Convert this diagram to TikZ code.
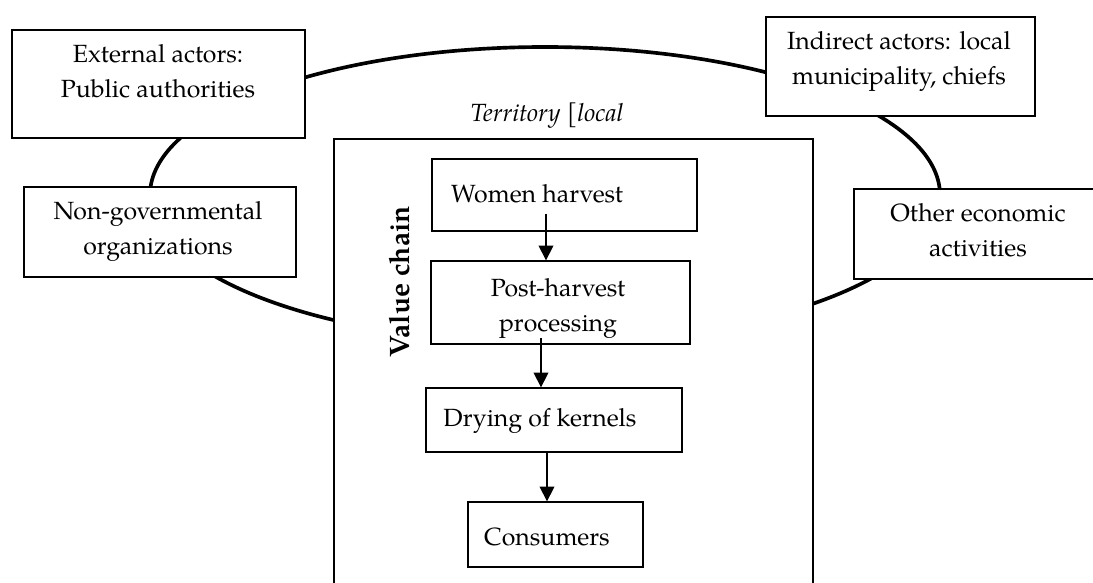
\documentclass[tikz,border=0pt]{standalone}
\usepackage{fontspec}
\setmainfont{TeX Gyre Pagella}
\usetikzlibrary{arrows.meta}

\def\u{0.025cm}

\tikzset{
  box/.style={draw, fill=white, line width=0.9pt, inner sep=0pt},
  lbl/.style={align=center, font=\fontsize{17.7}{24.9}\selectfont, inner sep=0pt, anchor=base},
  arr/.style={-{Triangle[length=10.5pt,width=10.5pt]}, line width=0.8pt}
}

\begin{document}
\begin{tikzpicture}[x=\u, y=-\u]

\useasboundingbox (0,0) rectangle (1093,583);
\clip (0,0) rectangle (1093,583);

% territory
\draw[line width=2.6pt] (545,195) ellipse [x radius=395, y radius=148];

% actors around the territory
\node[box, minimum width=293*\u, minimum height=108*\u] (ext) at (158.5,84) {};
\node[box, minimum width=272*\u, minimum height=90*\u] (ngo) at (160,232) {};
\node[box, minimum width=269*\u, minimum height=99*\u] (ind) at (900.5,66.5) {};
\node[box, minimum width=256*\u, minimum height=90*\u] (oth) at (982,234) {};

% base = last line
\node[lbl] (exttxt) at (158,98) {External actors:\\Public authorities};
\node[lbl] (ngotxt) at (158,255) {Non-governmental\\organizations};
\node[lbl] (indtxt) at (899,85) {Indirect actors: local\\municipality, chiefs};
\node[lbl] (othtxt) at (978,257) {Other economic\\activities};

\node[lbl, font=\fontsize{17.7}{24.9}\selectfont\itshape] (terr) at (547,122) {Territory [local};

% value chain
\node[box, minimum width=479*\u, minimum height=461*\u] (vc) at (573.5,369.5) {};
\node[font=\fontsize{20}{24}\selectfont\bfseries, rotate=90, inner sep=0pt] (vctxt) at (400,282) {Value chain};

\node[box, minimum width=265*\u, minimum height=72*\u] (wh) at (564.5,195) {};
\node[box, minimum width=259*\u, minimum height=83*\u] (ph) at (560.5,302.5) {};
\node[box, minimum width=256*\u, minimum height=64*\u] (dk) at (554,420) {};
\node[box, minimum width=175*\u, minimum height=65*\u] (cs) at (555.5,534.5) {};

\node[lbl] (whtxt) at (537,203) {Women harvest};
\node[lbl] (phtxt) at (558,332) {Post-harvest\\processing};
\node[lbl] (dktxt) at (540,427) {Drying of kernels};
\node[lbl] (cstxt) at (547,545) {Consumers};

\coordinate (a1) at (546,214);
\coordinate (a2) at (541,338);
\coordinate (a3) at (547,452);
\draw[arr] (a1) -- (a1 |- ph.north);
\draw[arr] (a2) -- (a2 |- dk.north);
\draw[arr] (a3) -- (a3 |- cs.north);

\end{tikzpicture}
\end{document}
